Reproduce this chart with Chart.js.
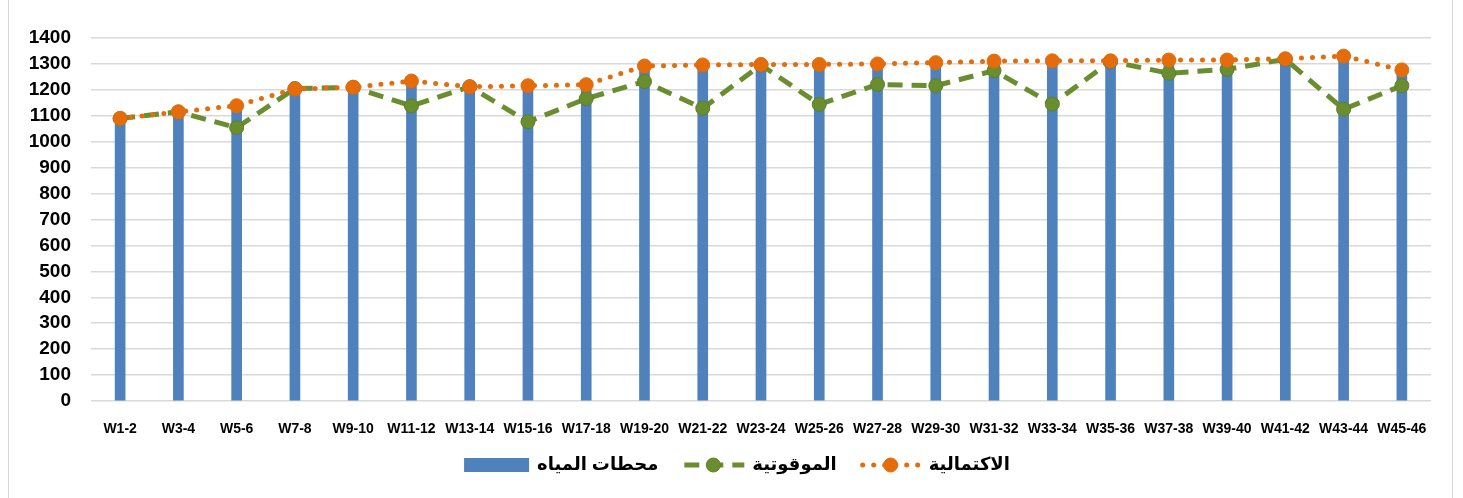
<!DOCTYPE html>
<html>
<head>
<meta charset="utf-8">
<script src="https://cdn.jsdelivr.net/npm/chart.js@4/dist/chart.umd.min.js"></script>
<style>
  body { margin: 0; background: #fff; }
  #wrap { position: relative; width: 1463px; height: 498px; }
  #frame { position: absolute; left: 8px; top: -2px; width: 1445px; height: 520px; border: 1.5px solid #D9D9D9; box-sizing: border-box; pointer-events: none; }
</style>
</head>
<body>
<div id="wrap">
  <canvas id="myChart" width="1463" height="498"></canvas>
  <div id="frame"></div>
</div>
<script>
const categories = ['W1-2', 'W3-4', 'W5-6', 'W7-8', 'W9-10', 'W11-12', 'W13-14', 'W15-16', 'W17-18', 'W19-20', 'W21-22', 'W23-24',
    'W25-26', 'W27-28', 'W29-30', 'W31-32', 'W33-34', 'W35-36', 'W37-38', 'W39-40', 'W41-42', 'W43-44', 'W45-46'];
const stationValues = [1088, 1114, 1136, 1202, 1208, 1232, 1210, 1214, 1218, 1290, 1294, 1296,
    1296, 1298, 1303, 1309, 1310, 1310, 1313, 1313, 1318, 1328, 1275];
const timelinessValues = [1090, 1115, 1054, 1205, 1210, 1138, 1212, 1077, 1166, 1232, 1129, 1296,
    1144, 1221, 1216, 1274, 1145, 1310, 1264, 1279, 1318, 1125, 1216];
const completenessValues = [1090, 1115, 1139, 1203, 1210, 1234, 1212, 1216, 1220, 1292, 1296, 1298,
    1298, 1300, 1305, 1311, 1312, 1312, 1315, 1315, 1320, 1330, 1277];
const yMin = 0, yMax = 1400, yStep = 100;

const labels = ['محطات المياه', 'الموقوتية', 'الاكتمالية'];
const FONT = "Arial, 'Liberation Sans', 'DejaVu Sans', sans-serif";

// legend drawn by hand, Excel style (line + marker)
const excelLegend = {
    id: 'excelLegend',
    afterDraw(chart) {
        const ctx = chart.ctx;
        const y = 465;
        ctx.save();
        ctx.font = 'bold 18px ' + FONT;
        const symW = [65, 62, 60];
        const gapText = 8, gapItem = 24;
        let total = 0;
        const tw = chart.data.datasets.map(d => ctx.measureText(d.label).width);
        for (let i = 0; i < 3; i++) total += symW[i] + gapText + tw[i] + (i < 2 ? gapItem : 0);
        let x = 737 - total / 2;
        chart.data.datasets.forEach((d, i) => {
            if (i === 0) {
                ctx.fillStyle = d.backgroundColor;
                ctx.fillRect(x, y - 7, symW[0], 14);
            } else {
                ctx.strokeStyle = d.borderColor;
                ctx.lineWidth = d.borderWidth;
                ctx.lineCap = d.borderCapStyle || 'butt';
                ctx.setLineDash(d.borderDash);
                ctx.beginPath();
                ctx.moveTo(x + 2, y);
                ctx.lineTo(x + symW[i], y);
                ctx.stroke();
                ctx.setLineDash([]);
                ctx.beginPath();
                ctx.arc(x + symW[i] / 2, y, 7, 0, Math.PI * 2);
                ctx.fillStyle = d.pointBackgroundColor;
                ctx.fill();
                ctx.lineWidth = 1;
                ctx.strokeStyle = d.pointBorderColor;
                ctx.stroke();
            }
            x += symW[i] + gapText;
            ctx.fillStyle = '#000';
            ctx.textBaseline = 'middle';
            ctx.textAlign = 'left';
            ctx.fillText(d.label, x, y);
            x += tw[i] + gapItem;
        });
        ctx.restore();
    }
};

const ctx = document.getElementById('myChart').getContext('2d');
const myChart = new Chart(ctx, {
    type: 'bar',
    data: {
        labels: categories,
        datasets: [{
            label: labels[0],
            data: stationValues,
            backgroundColor: '#4F81BD',
            barThickness: 10,
            order: 2
        },
        {
            type: 'line',
            label: labels[1],
            data: timelinessValues,
            borderColor: '#6A8E2F',
            borderWidth: 5,
            borderDash: [15, 9],
            pointRadius: 7,
            pointBackgroundColor: '#6A8E2F',
            pointBorderColor: '#5E7F28',
            pointBorderWidth: 1,
            tension: 0,
            order: 1
        },
        {
            type: 'line',
            label: labels[2],
            data: completenessValues,
            borderColor: '#E46C0A',
            borderWidth: 5,
            borderDash: [0, 11],
            borderCapStyle: 'round',
            pointRadius: 7,
            pointBackgroundColor: '#E46C0A',
            pointBorderColor: '#E46C0A',
            pointBorderWidth: 1,
            tension: 0,
            order: 0
        }]
    },
    plugins: [excelLegend],
    options: {
        responsive: false,
        devicePixelRatio: 1,
        animation: false,
        layout: { padding: { left: 8, right: 32, top: 38, bottom: 0 } },
        scales: {
            x: {
                grid: { display: false },
                border: { display: false },
                ticks: {
                    color: '#000',
                    font: { family: FONT, size: 14, weight: 'bold' },
                    padding: 12,
                    maxRotation: 0,
                    autoSkip: false
                },
                afterFit: s => { s.height = 97; }
            },
            y: {
                min: yMin,
                max: yMax,
                grid: { color: '#D9D9D9', lineWidth: 1.5, drawTicks: false },
                border: { display: false },
                ticks: {
                    stepSize: yStep,
                    autoSkip: false,
                    color: '#000',
                    font: { family: FONT, size: 19, weight: 'bold' },
                    padding: 20,
                    callback: v => String(v)
                },
                afterFit: s => { s.width = 83; }
            }
        },
        plugins: {
            legend: { display: false },
            tooltip: { enabled: false }
        }
    }
});
</script>
</body>
</html>
